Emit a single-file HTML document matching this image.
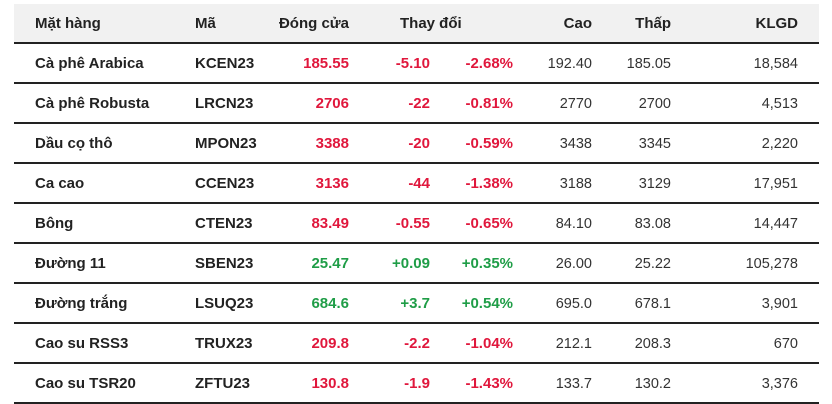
<!DOCTYPE html><html><head><meta charset="utf-8"><style>
body{margin:0;background:#fff;font-family:"Liberation Sans","DejaVu Sans",sans-serif;font-size:14px;color:#222}
.t{position:absolute;left:14px;top:4px;width:805px}
.r{position:relative;height:38px;border-bottom:2px solid #222}
.h{background:#f1f1f1}
.r span{position:absolute;top:0;line-height:40px;white-space:nowrap}
.b{font-weight:bold;font-size:15px}
.red{color:#e0173c;font-weight:bold;font-size:15px}.grn{color:#1f9d47;font-weight:bold;font-size:15px}
.n{color:#333;font-size:14.5px}
</style></head><body><div class="t">
<div class="r h"><span class="b" style="left:21px">Mặt hàng</span><span class="b" style="left:181px">Mã</span><span class="b" style="right:470px">Đóng cửa</span><span class="b" style="left:386px">Thay đổi</span><span class="b" style="right:227px">Cao</span><span class="b" style="right:148px">Thấp</span><span class="b" style="right:21px">KLGD</span></div>
<div id="rows"></div>
</div>
<script>
const d=[["Cà phê Arabica","KCEN23","185.55","-5.10","-2.68%","192.40","185.05","18,584"],
["Cà phê Robusta","LRCN23","2706","-22","-0.81%","2770","2700","4,513"],
["Dầu cọ thô","MPON23","3388","-20","-0.59%","3438","3345","2,220"],
["Ca cao","CCEN23","3136","-44","-1.38%","3188","3129","17,951"],
["Bông","CTEN23","83.49","-0.55","-0.65%","84.10","83.08","14,447"],
["Đường 11","SBEN23","25.47","+0.09","+0.35%","26.00","25.22","105,278"],
["Đường trắng","LSUQ23","684.6","+3.7","+0.54%","695.0","678.1","3,901"],
["Cao su RSS3","TRUX23","209.8","-2.2","-1.04%","212.1","208.3","670"],
["Cao su TSR20","ZFTU23","130.8","-1.9","-1.43%","133.7","130.2","3,376"]];
let h="";for(const r of d){const c=r[3][0]=="+"?"grn":"red";
h+=`<div class="r"><span class="b" style="left:21px">${r[0]}</span><span class="b" style="left:181px">${r[1]}</span><span class="${c}" style="right:470px">${r[2]}</span><span class="${c}" style="right:389px">${r[3]}</span><span class="${c}" style="right:306px">${r[4]}</span><span class="n" style="right:227px">${r[5]}</span><span class="n" style="right:148px">${r[6]}</span><span class="n" style="right:21px">${r[7]}</span></div>`}
document.getElementById("rows").innerHTML=h;
</script></body></html>
